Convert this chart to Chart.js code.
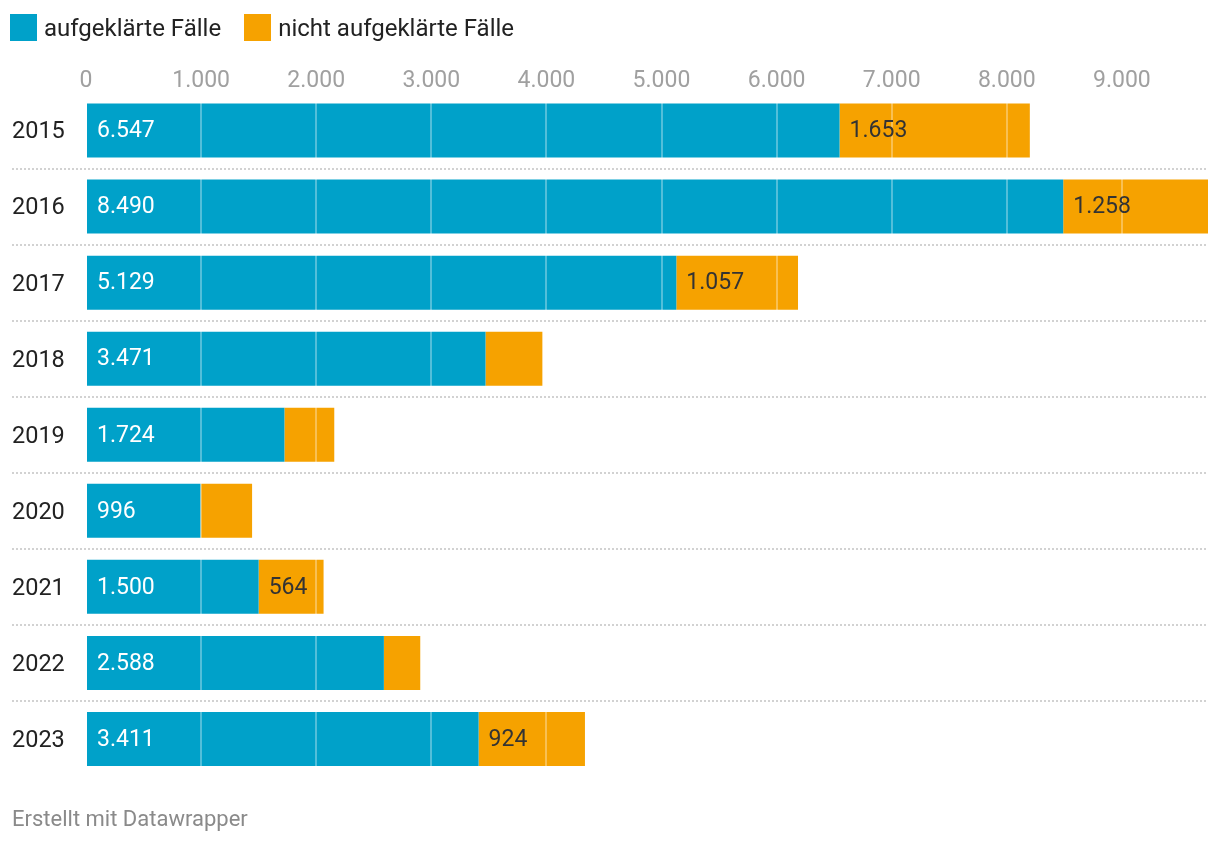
<!DOCTYPE html>
<html lang="de">
<head>
<meta charset="utf-8">
<script src="https://cdn.jsdelivr.net/npm/chart.js@4/dist/chart.umd.min.js"></script>
<style>
  html, body { margin: 0; padding: 0; background: #fff; }
  body { width: 1220px; height: 844px; position: relative; overflow: hidden; font-family: Roboto, "Noto Sans", sans-serif; }
  #legend { position: absolute; left: 10px; top: 14px; height: 27px; display: flex; align-items: center; font-size: 24px; color: #222; }
  .item { display: flex; align-items: center; margin-right: 23px; }
  .sw { width: 27px; height: 27px; margin-right: 7px; }
  #footer { position: absolute; left: 12px; top: 806px; font-size: 22px; color: #8a8a8a; }
  #wrap { position: absolute; left: 0; top: 0; width: 1220px; height: 844px; }
</style>
</head>
<body>
<div id="wrap"><canvas id="c" width="1220" height="844"></canvas></div>
<div id="legend"></div>
<div id="footer">Erstellt mit Datawrapper</div>
<script>
const categories = ['2015', '2016', '2017', '2018', '2019', '2020', '2021', '2022', '2023'];
const seriesNames = ['aufgeklärte Fälle', 'nicht aufgeklärte Fälle'];
const solved = [6547, 8490, 5129, 3471, 1724, 996, 1500, 2588, 3411];
const unsolved = [1653, 1258, 1057, 494, 433, 447, 564, 316, 924];
const tickValues = [0, 1000, 2000, 3000, 4000, 5000, 6000, 7000, 8000, 9000];

const colors = ['#00a1c9', '#f6a200'];
const labelColors = ['#ffffff', '#333333'];

function fmt(v) {
  return String(Math.round(v)).replace(/\B(?=(\d{3})+(?!\d))/g, '.');
}

const legend = document.getElementById('legend');
seriesNames.forEach((n, i) => {
  const it = document.createElement('div');
  it.className = 'item';
  it.innerHTML = '<div class="sw" style="background:' + colors[i] + '"></div><span>' + n + '</span>';
  legend.appendChild(it);
});

const totals = categories.map((_, i) => solved[i] + unsolved[i]);
const xMax = Math.max(...totals);

const separators = {
  id: 'separators',
  afterDraw(chart) {
    const ctx = chart.ctx;
    const y = chart.scales.y;
    ctx.save();
    ctx.strokeStyle = '#d2d2d2';
    ctx.lineWidth = 2;
    ctx.setLineDash([2, 2]);
    for (let i = 0; i < categories.length - 1; i++) {
      const py = Math.round((y.getPixelForValue(i) + y.getPixelForValue(i + 1)) / 2);
      ctx.beginPath();
      ctx.moveTo(12, py);
      ctx.lineTo(chart.chartArea.right, py);
      ctx.stroke();
    }
    ctx.restore();
  }
};

const valueLabels = {
  id: 'valueLabels',
  afterDraw(chart) {
    const ctx = chart.ctx;
    ctx.save();
    ctx.font = '23px Roboto';
    ctx.textBaseline = 'middle';
    ctx.textAlign = 'left';
    chart.data.datasets.forEach((ds, di) => {
      const meta = chart.getDatasetMeta(di);
      meta.data.forEach((bar, i) => {
        const v = ds.data[i];
        const txt = fmt(v);
        const left = Math.min(bar.x, bar.base);
        const w = Math.abs(bar.x - bar.base);
        const tw = ctx.measureText(txt).width;
        if (w < tw + 22) return;
        ctx.fillStyle = labelColors[di];
        ctx.fillText(txt, left + 10, bar.y + 1);
      });
    });
    ctx.restore();
  }
};

new Chart(document.getElementById('c'), {
  type: 'bar',
  data: {
    labels: categories,
    datasets: [
      { label: seriesNames[0], data: solved, backgroundColor: colors[0], borderWidth: 0, barPercentage: 0.71, categoryPercentage: 1 },
      { label: seriesNames[1], data: unsolved, backgroundColor: colors[1], borderWidth: 0, barPercentage: 0.71, categoryPercentage: 1 }
    ]
  },
  options: {
    indexAxis: 'y',
    responsive: false,
    animation: false,
    devicePixelRatio: 1,
    layout: { padding: { left: 12, right: 12, top: 56, bottom: 67 } },
    plugins: { legend: { display: false }, tooltip: { enabled: false } },
    scales: {
      x: {
        type: 'linear',
        position: 'top',
        stacked: true,
        min: 0,
        max: xMax,
        afterFit(s) { s.height = 36.5; },
        afterBuildTicks(s) { s.ticks = tickValues.map(v => ({ value: v })); },
        ticks: {
          padding: -3,
          color: '#a0a0a0',
          font: { family: 'Roboto', size: 23 },
          maxRotation: 0,
          autoSkip: false,
          callback: v => fmt(v)
        },
        grid: {
          color: 'rgba(255,255,255,0.32)',
          lineWidth: 2,
          drawTicks: false,
          z: 1
        },
        border: { display: false }
      },
      y: {
        stacked: true,
        afterFit(s) { s.width = 74; },
        ticks: {
          crossAlign: 'far',
          color: '#222',
          font: { family: 'Roboto', size: 23.5 },
          padding: 0,
          labelOffset: 2
        },
        grid: { display: false },
        border: { display: false }
      }
    }
  },
  plugins: [separators, valueLabels]
});
</script>
</body>
</html>
